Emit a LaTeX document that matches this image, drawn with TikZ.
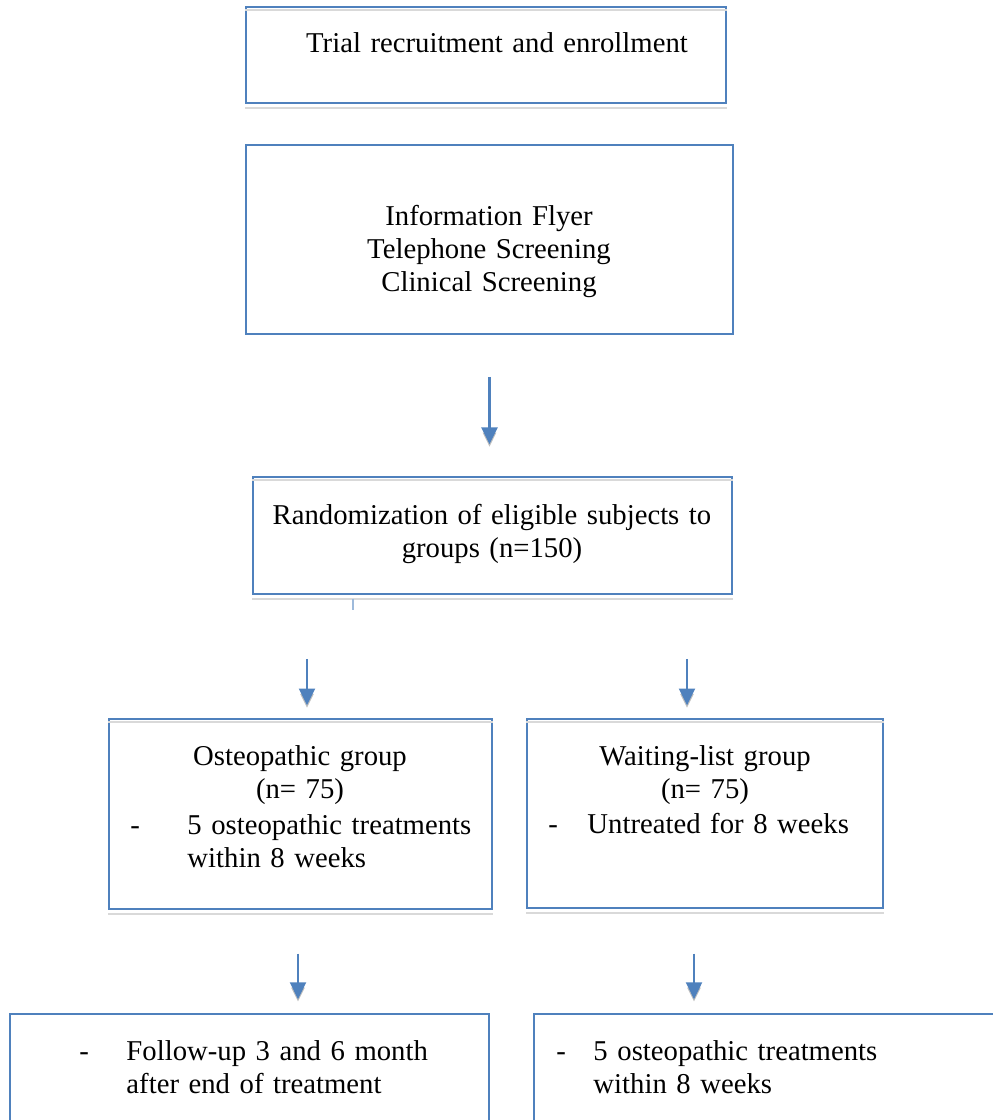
\documentclass[tikz,border=0pt]{standalone}
\usepackage{fontspec}
\setmainfont{Liberation Serif}
\usetikzlibrary{fit}
\usetikzlibrary{arrows.meta}
\definecolor{wordblue}{RGB}{79,129,189}
\tikzset{cell/.style={rectangle, draw=wordblue, line width=0.6pt, inner sep=0pt}}
\tikzset{rim/.style={draw=black!15, line width=0.8pt}}
\tikzset{lbl/.style={inner sep=0pt, font=\fontsize{12pt}{14pt}\selectfont}}
\tikzset{mid/.style={lbl, anchor=base, text width=220pt, align=center}}
\tikzset{item/.style={lbl, anchor=base west, text width=140pt, align=left}}
\tikzset{flow/.style={
   draw=wordblue, line width=1.1pt,
   -{Triangle[width=6.6pt,length=7pt]},
   preaction={draw=black!25, transform canvas={yshift=-1.8pt}}
}}

\begin{document}
\begin{tikzpicture}[x=0.418pt, y=-0.418pt]

    \useasboundingbox (0,0) rectangle (992,1120);

    \node[cell, fit={(246,7) (726,103)}]     (b1) {};
    \node[cell, fit={(246,145) (733,334)}]   (b2) {};
    \node[cell, fit={(253,477) (732,594)}]   (b3) {};
    \node[cell, fit={(109,719) (492,909)}]   (b4) {};
    \node[cell, fit={(527,719) (883,908)}]   (b5) {};
    \node[cell, fit={(10,1014) (489,1140)}]  (b6) {};
    \node[cell, fit={(534,1014) (1010,1140)}] (b7) {};

    \foreach \b in {b1,b3,b4,b5} {
      \draw[rim] ([yshift=-1.7pt]\b.north west) -- ([yshift=-1.7pt]\b.north east);
      \draw[rim] ([yshift=-1.7pt]\b.south west) -- ([yshift=-1.7pt]\b.south east);
    }

    \node[mid] (t1) at (497,53)  {Trial recruitment and enrollment};
    \node[mid] (t2) at (489,225) {Information Flyer\\Telephone Screening\\Clinical Screening};
    \node[mid] (t3) at (492,524) {Randomization of eligible subjects to\\groups (n=150)};

    \node[mid] (t4) at (300,765) {Osteopathic group\\(n= 75)};
    \node[lbl, anchor=base west] (d4) at (130,834) {-};
    \node[item] (i4) at (187,834) {5 osteopathic treatments\\within 8 weeks};

    \node[mid] (t5) at (705,765) {Waiting-list group\\(n= 75)};
    \node[lbl, anchor=base west] (d5) at (548,833) {-};
    \node[item] (i5) at (587,833) {Untreated for 8 weeks};

    \node[lbl, anchor=base west] (d6) at (79,1060) {-};
    \node[item] (i6) at (126,1060) {Follow-up 3 and 6 month\\after end of treatment};

    \node[lbl, anchor=base west] (d7) at (556,1060) {-};
    \node[item] (i7) at (593,1060) {5 osteopathic treatments\\within 8 weeks};

    \coordinate (tick)  at (353,610);
    \coordinate (colL)  at (307,0);
    \coordinate (colR)  at (687,0);
    \coordinate (colLL) at (298,0);
    \coordinate (colRR) at (694,0);

    \draw[wordblue!55, line width=0.5pt, shorten <=1.6pt] (tick |- b3.south) -- (tick);

    \draw[flow, shorten <=17.6pt, shorten >=13.4pt] (b2.south) -- (b2.south |- b3.north);
    \draw[flow, shorten <=26.8pt, shorten >=5.4pt]  (b3.south -| colL) -- (b4.north -| colL);
    \draw[flow, shorten <=26.8pt, shorten >=5.4pt]  (b3.south -| colR) -- (b5.north -| colR);
    \draw[flow, shorten <=18.4pt, shorten >=5.9pt]  (b4.south -| colLL) -- (b6.north -| colLL);
    \draw[flow, shorten <=18.8pt, shorten >=5.9pt]  (b5.south -| colRR) -- (b7.north -| colRR);

  \end{tikzpicture}
\end{document}
